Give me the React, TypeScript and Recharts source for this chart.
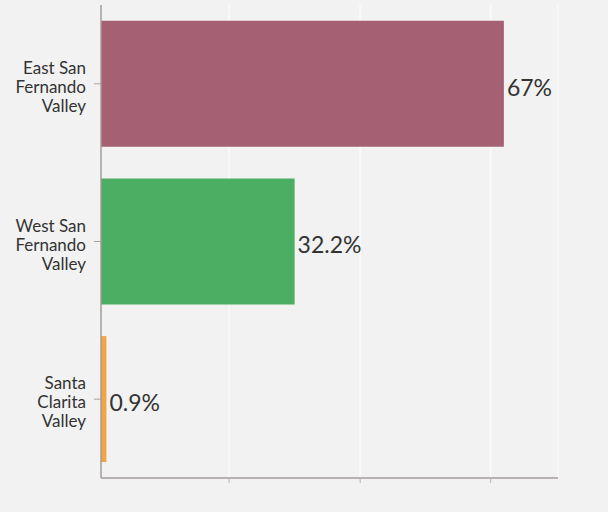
import React from 'react';
import { BarChart, Bar, XAxis, YAxis, CartesianGrid, Cell, LabelList } from 'recharts';

// regions (line breaks as in the axis labels), shares in %
const regions = ['East San\nFernando\nValley', 'West San\nFernando\nValley', 'Santa\nClarita\nValley'];
const shares = [67, 32.2, 0.9];
const barColors = ['#a66073', '#4cae62', '#f2a541'];
const xTicks = [21.3, 43.1, 64.8];

const data = regions.map((region, i) => ({ region, share: shares[i] }));

const FONT = 'Lato, "Open Sans", sans-serif';

function RegionTick({ x, y, payload }: any) {
  const lines = String(payload.value).split('\n');
  return (
    <text x={x} y={y} textAnchor="end" fill="#333" fontSize={17} fontFamily={FONT}>
      {lines.map((line, i) => (
        <tspan key={i} x={x} dy={i === 0 ? -10 : 19}>{line}</tspan>
      ))}
    </text>
  );
}

// x ticks carry no labels, only the small tick marks
const NoLabel = () => <g />;

function ValueLabel({ x, y, width, height, value }: any) {
  return (
    <text
      x={Number(x) + Number(width) + 3}
      y={Number(y) + Number(height) / 2 + 12}
      fill="#333"
      fontSize={23}
      fontFamily={FONT}
    >
      {`${value}%`}
    </text>
  );
}

export default function App() {
  return (
    <div
      style={{
        position: 'absolute', left: 0, top: 0, width: 608, height: 512,
        background: '#f2f2f2', fontFamily: FONT,
      }}
    >
      <BarChart
        width={608}
        height={512}
        data={data}
        layout="vertical"
        margin={{ top: 5, right: 50, bottom: 4, left: 0 }}
        barCategoryGap="10%"
      >
        <CartesianGrid horizontal={false} stroke="#fafafa" strokeWidth={1.5} />
        <XAxis
          type="number"
          domain={[0, 76]}
          ticks={xTicks}
          tick={<NoLabel />}
          height={30}
          tickSize={5}
          tickLine={{ stroke: '#b8b2b2' }}
          axisLine={{ stroke: '#a39b9b', strokeWidth: 1.5 }}
        />
        <YAxis
          type="category"
          dataKey="region"
          width={101}
          tickSize={7}
          tickMargin={8}
          tick={<RegionTick />}
          tickLine={{ stroke: '#a8a2a2' }}
          axisLine={{ stroke: '#a39b9b', strokeWidth: 1.5 }}
        />
        <Bar dataKey="share" isAnimationActive={false}>
          {data.map((d, i) => (
            <Cell key={d.region} fill={barColors[i]} />
          ))}
          <LabelList dataKey="share" content={<ValueLabel />} />
        </Bar>
      </BarChart>
    </div>
  );
}
